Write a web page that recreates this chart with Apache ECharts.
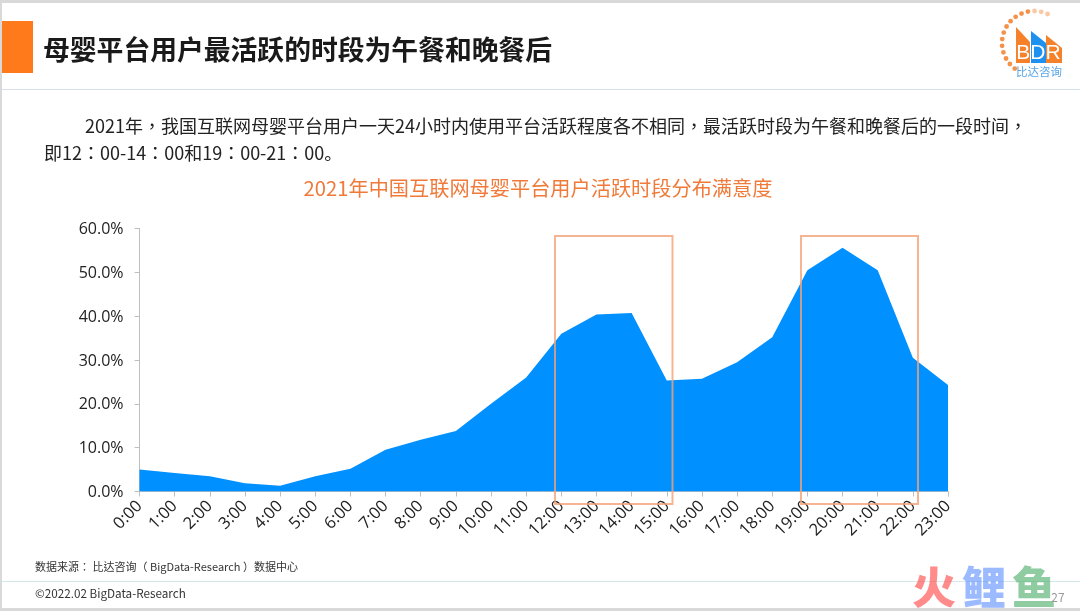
<!DOCTYPE html>
<html>
<head>
<meta charset="utf-8">
<style>
html, body { margin: 0; padding: 0; background: #fff; }
#main { width: 1080px; height: 611px; }
</style>
<script src="https://cdn.jsdelivr.net/npm/echarts@6/dist/echarts.min.js"></script>
</head>
<body>
<div id="main"></div>
<script>
var hours = ['0:00', '1:00', '2:00', '3:00', '4:00', '5:00', '6:00', '7:00', '8:00', '9:00', '10:00', '11:00',
    '12:00', '13:00', '14:00', '15:00', '16:00', '17:00', '18:00', '19:00', '20:00', '21:00', '22:00', '23:00'];
var activeShare = [5.0, 4.2, 3.5, 1.9, 1.3, 3.5, 5.2, 9.5, 11.8, 13.8, 20.0, 26.0,
    36.0, 40.4, 40.7, 25.3, 25.7, 29.5, 35.2, 50.5, 55.6, 50.5, 30.5, 24.3];
var headline = '母婴平台用户最活跃的时段为午餐和晚餐后';
var bodyLine1 = '2021年，我国互联网母婴平台用户一天24小时内使用平台活跃程度各不相同，最活跃时段为午餐和晚餐后的一段时间，';
var bodyLine2 = '即12：00-14：00和19：00-21：00{p|。}';
var chartTitle = '2021年中国互联网母婴平台用户活跃时段分布满意度';
var sourceNote = '数据来源： 比达咨询（ BigData-Research ）数据中心';
var copyrightNote = '©2022.02 BigData-Research';

var cjk = '"Noto Sans CJK SC", "Noto Sans", sans-serif';
var cjkBody = '"Noto Sans CJK TC", "Noto Sans", sans-serif';

function label(x, y, text, size, color, extra) {
    var style = { x: x, y: y, text: text, fontSize: size, fill: color, fontFamily: cjk, textVerticalAlign: 'middle' };
    for (var k in extra) style[k] = extra[k];
    return { type: 'text', z: 20, style: style };
}
function bar(x, y, w, h, color) {
    return { type: 'rect', shape: { x: x, y: y, width: w, height: h }, style: { fill: color } };
}
function box(x, y, w, h) {
    return {
        type: 'rect', z: 10, shape: { x: x, y: y, width: w, height: h },
        style: { fill: 'none', stroke: '#f2a377', lineWidth: 2, opacity: 0.8 }
    };
}
function roof(points, color) {
    return { type: 'polygon', shape: { points: points }, style: { fill: color } };
}

var graphics = [
    // 页面边框
    bar(0, 0, 1080, 3, '#d9d9d9'),
    bar(0, 0, 2, 611, '#d9d9d9'),
    bar(0, 608, 1080, 3, '#d9d9d9'),
    bar(2, 89, 1078, 1, '#d5e0ee'),
    bar(2, 581, 1078, 1, '#d3e8ea'),
    bar(2, 21, 31, 52, '#ff7a1a'),
    label(43, 50, headline, 26.8, '#1a1a1a', { fontWeight: 'bold' }),
    label(85, 126, bodyLine1, 18, '#222', { fontFamily: cjkBody }),
    label(44, 153, bodyLine2, 18, '#222', {
        fontFamily: cjkBody,
        rich: { p: { fontFamily: cjk, fontSize: 18, fill: '#222' } }
    }),
    label(538, 188, chartTitle, 20.2, '#f07a3a', { textAlign: 'center' }),
    label(35, 567, sourceNote, 11, '#333', { fontFamily: cjkBody }),
    label(35, 594, copyrightNote, 11.7, '#333'),
    // 高亮框
    box(555, 236, 117.5, 268),
    box(801, 236, 117, 268),
    // 水印
    label(934, 587, '火', 44, 'rgba(255,90,90,0.7)', { textAlign: 'center', fontWeight: 900 }),
    label(984, 587, '鲤', 44, 'rgba(90,140,255,0.6)', { textAlign: 'center', fontWeight: 900 }),
    label(1034, 587, '鱼', 44, 'rgba(70,170,100,0.6)', { textAlign: 'center', fontWeight: 900 }),
    label(1058, 597, '27', 12, '#999', { textAlign: 'center' }),
    // logo
    roof([[1016, 27], [1030, 42], [1030, 63], [1016, 63]], '#f5822a'),
    roof([[1031, 31], [1046, 43], [1046, 63], [1031, 63]], '#1e90f0'),
    roof([[1046, 35], [1062, 48], [1062, 63], [1046, 63]], '#f5822a'),
    label(1038.5, 53.5, 'BDR', 21, '#fff', { textAlign: 'center', fontFamily: '"Liberation Sans", sans-serif' }),
    label(1039, 72, '比达咨询', 11.5, '#5aa5e6', { textAlign: 'center' })
];

// logo外圈的小点
for (var deg = 127; deg <= 300; deg += 12) {
    var rad = deg * Math.PI / 180;
    graphics.push({
        type: 'circle',
        shape: { cx: 1034 + 32 * Math.cos(rad), cy: 43 + 32 * Math.sin(rad), r: 2.4 },
        style: { fill: '#f5924a', opacity: deg > 265 ? 0.5 : 1 }
    });
}

var myChart = echarts.init(document.getElementById('main'));

var option = {
    animation: false,
    backgroundColor: '#fff',
    grid: { left: 139.5, right: 132, top: 228.5, bottom: 119.5 },
    xAxis: {
        type: 'category',
        boundaryGap: false,
        data: hours,
        axisLine: { lineStyle: { color: '#bfbfbf' } },
        axisTick: { show: true, length: 5, alignWithLabel: true, lineStyle: { color: '#bfbfbf' } },
        axisLabel: {
            interval: 0, rotate: 45, margin: 12, color: '#222', fontSize: 16.5,
            lineHeight: 34,
            fontFamily: '"Open Sans", sans-serif'
        }
    },
    yAxis: {
        type: 'value',
        min: 0,
        max: 60,
        interval: 10,
        splitLine: { show: false },
        axisLine: { show: true, lineStyle: { color: '#bfbfbf' } },
        axisTick: { show: true, length: 5, lineStyle: { color: '#bfbfbf' } },
        axisLabel: {
            margin: 16, color: '#222', fontSize: 16,
            fontFamily: '"Open Sans", sans-serif',
            formatter: function (v) { return '{a|' + v.toFixed(1) + '%}'; },
            rich: { a: { fontSize: 16, color: '#222', fontFamily: '"Open Sans", sans-serif', padding: [2, 0, 0, 0] } }
        }
    },
    series: [
        {
            type: 'line',
            data: activeShare,
            symbol: 'none',
            lineStyle: { width: 0 },
            areaStyle: { color: '#0090ff', opacity: 1 }
        }
    ],
    graphic: graphics
};

myChart.setOption(option);
</script>
</body>
</html>
